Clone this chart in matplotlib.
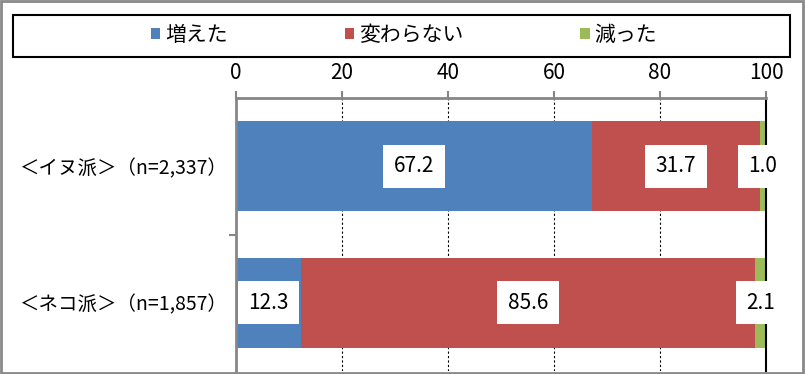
import matplotlib.pyplot as plt
from matplotlib.patches import Patch, Rectangle

plt.rcParams['font.family'] = ['Noto Sans CJK JP', 'DejaVu Sans']

# data
groups = ["＜イヌ派＞（n=2,337）", "＜ネコ派＞（n=1,857）"]
series_names = ["増えた", "変わらない", "減った"]
increased = [67.2, 12.3]
unchanged = [31.7, 85.6]
decreased = [1.0, 2.1]
x_ticks = [0, 20, 40, 60, 80, 100]

colors = ["#4F81BD", "#C0504D", "#9BBB59"]

fig = plt.figure(figsize=(8.05, 3.74), dpi=100)
ax = fig.add_axes([236 / 805, 3 / 374, 530 / 805, 273 / 374])

ypos = list(range(len(groups)))
left = [0.0] * len(groups)
for vals, col in zip([increased, unchanged, decreased], colors):
    ax.barh(ypos, vals, left=left, height=0.66, color=col, zorder=2)
    for y, v, l in zip(ypos, vals, left):
        ax.text(l + v / 2, y, "{0:.1f}".format(v), ha='center', va='center', fontsize=15,
                color='black', zorder=4,
                bbox=dict(boxstyle='square,pad=0.5', facecolor='white', edgecolor='none'))
    left = [l + v for l, v in zip(left, vals)]

ax.set_xlim(0, 100)
ax.set_ylim(-0.5, 1.5)
ax.invert_yaxis()

# x axis on top
ax.xaxis.tick_top()
ax.set_xticks(x_ticks)
ax.tick_params(axis='x', direction='out', length=5, width=1.5, color='#868686', labelsize=15, pad=5)

# category labels, tick only between groups
ax.set_yticks(ypos)
ax.set_yticklabels(groups, fontsize=14)
ax.tick_params(axis='y', length=0, pad=6)
ax.set_yticks([0.5], minor=True)
ax.tick_params(axis='y', which='minor', length=5, width=1.5, color='#868686', direction='out')

# dashed gridlines
for gx in x_ticks[1:-1]:
    ax.axvline(gx, color='black', linestyle=(0, (2, 2)), linewidth=0.8, zorder=1)

ax.spines['bottom'].set_visible(False)
ax.spines['top'].set_color('#868686')
ax.spines['top'].set_linewidth(2)
ax.spines['left'].set_color('#868686')
ax.spines['left'].set_linewidth(2)
ax.spines['right'].set_color('black')
ax.spines['right'].set_linewidth(1.5)

# legend with separate frame
handles = [Patch(facecolor=c, edgecolor='none') for c in colors]
fig.legend(handles, series_names, loc='center', bbox_to_anchor=(404 / 805, 1 - 35 / 374),
           ncol=3, frameon=False, fontsize=15, handlelength=0.45, handleheight=0.45,
           handletextpad=0.25, columnspacing=5.6)
fig.add_artist(Rectangle((13 / 805, 1 - 57 / 374), 777 / 805, 42 / 374, transform=fig.transFigure,
                         fill=False, edgecolor='black', linewidth=1.5))

# outer border
fig.add_artist(Rectangle((0.001, 0.002), 0.997, 0.995, transform=fig.transFigure,
                         fill=False, edgecolor='#898989', linewidth=2))

fig.savefig("out.png", dpi=100)
